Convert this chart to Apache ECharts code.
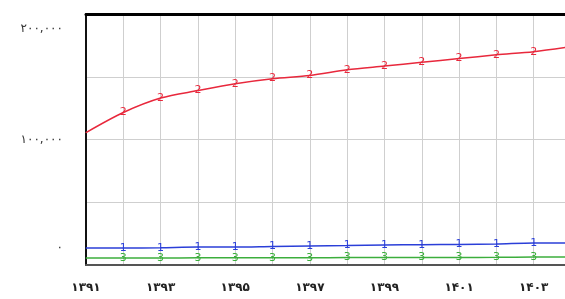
<!DOCTYPE html>
<html>
<head>
<meta charset="utf-8">
<script src="https://cdn.jsdelivr.net/npm/echarts@6/dist/echarts.min.js"></script>
<style>
  html, body { margin: 0; padding: 0; background: #fff; }
  #main { width: 565px; height: 299px; }
</style>
</head>
<body>
<div id="main"></div>
<script type="text/javascript">
// years and values
var years = [1391, 1392, 1393, 1394, 1395, 1396, 1397, 1398, 1399, 1400, 1401, 1402, 1403, 1404];
var series2 = [105500, 121500, 133000, 139000, 144500, 148500, 151000, 155500, 158500, 161500, 164500, 167500, 170000, 174000];
var series1 = [13500, 13500, 13800, 14300, 14300, 14800, 15200, 15500, 15900, 16200, 16400, 16700, 17500, 17500];
var series3 = [5500, 5500, 5600, 5700, 5700, 5800, 5800, 5900, 5900, 6000, 6000, 6100, 6300, 6300];
var yLabels = { 0: '۰', 100000: '۱۰۰,۰۰۰', 200000: '۲۰۰,۰۰۰' };

var faDigits = '۰۱۲۳۴۵۶۷۸۹';
function toFa(n) {
    return String(n).replace(/[0-9]/g, function (d) { return faDigits[+d]; });
}
function pairs(vals) {
    return years.map(function (y, i) { return [y, vals[i]]; });
}
function mkSeries(vals, color, mark) {
    return {
        type: 'line',
        data: pairs(vals),
        smooth: 0.3,
        symbol: 'circle',
        symbolSize: 1,
        lineStyle: { color: color, width: 1.5 },
        itemStyle: { color: color },
        label: {
            show: true,
            position: 'inside',
            color: color,
            fontSize: 11,
            fontFamily: 'DejaVu Sans',
            formatter: function (p) { return p.dataIndex === 0 ? '' : mark; }
        },
        z: 3
    };
}

var myChart = echarts.init(document.getElementById('main'));
var option = {
    animation: false,
    backgroundColor: '#fff',
    // plot area runs past the right edge of the picture
    grid: { left: 86, width: 485, top: 14, bottom: 34, outerBoundsMode: 'none', containLabel: false },
    xAxis: [
        {
            type: 'value',
            min: 1391, max: 1404, interval: 1,
            axisLine: { show: true, lineStyle: { color: '#555', width: 2 } },
            axisTick: { show: false },
            splitLine: { show: true, lineStyle: { color: '#cfcfcf', width: 1 } },
            axisLabel: {
                color: '#222', fontSize: 12, fontWeight: 'bold', fontFamily: 'DejaVu Sans', margin: 17,
                formatter: function (v) { return (v % 2 === 1) ? toFa(v) : ''; }
            }
        },
        {
            type: 'value', position: 'top',
            min: 1391, max: 1404,
            axisLine: { show: true, lineStyle: { color: '#000', width: 3 } },
            axisTick: { show: false },
            axisLabel: { show: false },
            splitLine: { show: false }
        }
    ],
    yAxis: {
        type: 'value',
        min: 0, max: 200000, interval: 50000,
        axisLine: { show: true, lineStyle: { color: '#111', width: 2 } },
        axisTick: { show: false },
        splitLine: { show: true, lineStyle: { color: '#cfcfcf', width: 1 } },
        axisLabel: {
            color: '#333', fontSize: 12, fontFamily: 'DejaVu Sans', margin: 23,
            formatter: function (v) {
                if (v === 200000) return '{top|' + yLabels[v] + '}';
                if (v === 0) return '{bot|' + yLabels[v] + '}';
                return yLabels[v] || '';
            },
            rich: {
                top: { fontSize: 12, color: '#333', padding: [30, 0, 0, 0] },
                bot: { fontSize: 12, color: '#333', padding: [0, 0, 34, 0] }
            }
        }
    },
    series: [
        mkSeries(series1, '#2b3fd8', '1'),
        mkSeries(series2, '#e8283c', '2'),
        mkSeries(series3, '#3cae3c', '3')
    ]
};
myChart.setOption(option);
</script>
</body>
</html>
